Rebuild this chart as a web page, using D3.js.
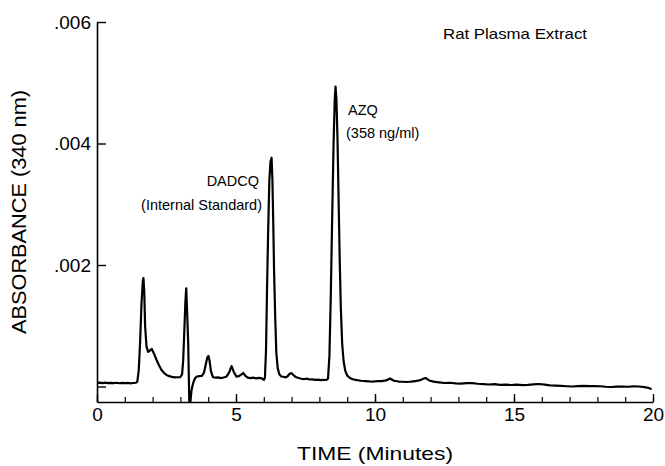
<!DOCTYPE html>
<html>
<head>
<meta charset="utf-8">
<script src="https://cdn.jsdelivr.net/npm/d3@7"></script>
<style>
  html, body { margin: 0; padding: 0; background: #fff; }
  svg { display: block; }
  text { font-family: "Liberation Sans", Arial, Helvetica, sans-serif; fill: #000; }
</style>
</head>
<body>
<svg id="chart" width="665" height="466"></svg>
<script>
// ---- data ----
const times = [
  0.00, 0.10, 0.20, 0.30, 0.40, 0.50, 0.60, 0.70, 0.80, 0.90,
  1.00, 1.10, 1.20, 1.30, 1.40, 1.45, 1.50, 1.55, 1.60, 1.65,
  1.67, 1.70, 1.73, 1.78, 1.84, 1.90, 1.97, 2.05, 2.14, 2.23,
  2.32, 2.41, 2.50, 2.60, 2.70, 2.80, 2.90, 3.00, 3.06, 3.10,
  3.14, 3.18, 3.21, 3.24, 3.28, 3.32, 3.36, 3.40, 3.46, 3.53,
  3.60, 3.68, 3.77, 3.85, 3.92, 3.97, 4.01, 4.05, 4.10, 4.17,
  4.25, 4.35, 4.45, 4.55, 4.65, 4.75, 4.84, 4.92, 5.02, 5.12,
  5.20, 5.26, 5.33, 5.42, 5.52, 5.62, 5.72, 5.82, 5.92, 6.00,
  6.04, 6.08, 6.12, 6.16, 6.20, 6.24, 6.28, 6.31, 6.34, 6.37,
  6.41, 6.45, 6.50, 6.56, 6.63, 6.70, 6.78, 6.85, 6.92, 6.99,
  7.06, 7.15, 7.25, 7.35, 7.45, 7.55, 7.65, 7.75, 7.85, 7.95,
  8.05, 8.15, 8.25, 8.31, 8.36, 8.41, 8.46, 8.51, 8.55, 8.58,
  8.61, 8.65, 8.69, 8.73, 8.77, 8.82, 8.87, 8.93, 9.00, 9.10,
  9.20, 9.35, 9.50, 9.65, 9.80, 9.95, 10.10, 10.25, 10.40, 10.54,
  10.68, 10.85, 11.00, 11.15, 11.30, 11.45, 11.60, 11.72, 11.82, 11.95,
  12.10, 12.30, 12.50, 12.70, 12.90, 13.10, 13.30, 13.50, 13.70, 13.90,
  14.10, 14.30, 14.50, 14.70, 14.90, 15.10, 15.30, 15.50, 15.70, 15.90,
  16.10, 16.30, 16.50, 16.70, 16.90, 17.10, 17.30, 17.50, 17.70, 17.90,
  18.10, 18.30, 18.50, 18.70, 18.90, 19.10, 19.30, 19.50, 19.70, 19.85,
  19.95
];
const absorbance = [
  0.000060, 0.000064, 0.000057, 0.000063, 0.000055, 0.000061, 0.000056, 0.000062, 0.000054, 0.000059,
  0.000055, 0.000061, 0.000053, 0.000058, 0.000062, 0.000080, 0.000260, 0.000720, 0.001360, 0.001740,
  0.001786, 0.001560, 0.001000, 0.000660, 0.000570, 0.000590, 0.000620, 0.000540, 0.000440, 0.000350,
  0.000272, 0.000225, 0.000190, 0.000170, 0.000158, 0.000150, 0.000152, 0.000156, 0.000200, 0.000430,
  0.000900, 0.001400, 0.001616, 0.001250, 0.000716, -0.000255, -0.000255, -0.000060, 0.000060, 0.000140,
  0.000165, 0.000170, 0.000175, 0.000230, 0.000380, 0.000480, 0.000502, 0.000420, 0.000250, 0.000156,
  0.000145, 0.000150, 0.000138, 0.000148, 0.000160, 0.000230, 0.000337, 0.000240, 0.000161, 0.000175,
  0.000200, 0.000222, 0.000180, 0.000145, 0.000138, 0.000146, 0.000135, 0.000142, 0.000136, 0.000110,
  0.000140, 0.000600, 0.001700, 0.002626, 0.003400, 0.003700, 0.003766, 0.003400, 0.002700, 0.001900,
  0.001150, 0.000560, 0.000300, 0.000200, 0.000165, 0.000160, 0.000150, 0.000165, 0.000205, 0.000222,
  0.000190, 0.000156, 0.000140, 0.000128, 0.000123, 0.000130, 0.000115, 0.000118, 0.000110, 0.000112,
  0.000105, 0.000108, 0.000107, 0.000130, 0.000500, 0.001500, 0.002800, 0.004000, 0.004700, 0.004935,
  0.004750, 0.004100, 0.003100, 0.002100, 0.001300, 0.000700, 0.000420, 0.000260, 0.000180, 0.000140,
  0.000120, 0.000105, 0.000095, 0.000090, 0.000084, 0.000082, 0.000088, 0.000090, 0.000100, 0.000132,
  0.000095, 0.000082, 0.000078, 0.000074, 0.000080, 0.000090, 0.000100, 0.000125, 0.000140, 0.000100,
  0.000080, 0.000068, 0.000058, 0.000062, 0.000052, 0.000049, 0.000055, 0.000057, 0.000045, 0.000040,
  0.000033, 0.000038, 0.000028, 0.000030, 0.000025, 0.000030, 0.000022, 0.000026, 0.000035, 0.000041,
  0.000030, 0.000018, 0.000014, 0.000010, 0.000004, 0.000000, 0.000006, 0.000012, 0.000006, 0.000008,
  0.000004, -0.000004, -0.000008, -0.000002, 0.000000, -0.000004, 0.000002, 0.000000, -0.000010, -0.000025,
  -0.000046
];
const yTickValues = [0, 0.002, 0.004, 0.006];
const yTickLabels = ["", ".002", ".004", ".006"];
const xMajorTicks = [0, 5, 10, 15, 20];
const xMinorTicks = d3.range(0, 21, 1);
const xTitle = "TIME (Minutes)";
const yTitle = "ABSORBANCE (340 nm)";
const sampleLabel = "Rat Plasma Extract";
const peakLabels = [
  { lines: ["DADCQ", "(Internal Standard)"] },
  { lines: ["AZQ", "(358 ng/ml)"] }
];

// ---- layout ----
const svg = d3.select("#chart");
const mLeft = 97, mRight = 653, mTop = 22, mBottom = 402;

const x = d3.scaleLinear().domain([0, 20]).range([mLeft, mRight]);
const y = d3.scaleLinear().domain([-0.000255, 0.006]).range([mBottom, mTop]);

// y axis (ticks pointing inward)
const yAxis = d3.axisLeft(y)
  .tickValues(yTickValues)
  .tickFormat((d, i) => yTickLabels[i])
  .tickSizeInner(-9)
  .tickSizeOuter(0)
  .tickPadding(6);
const gy = svg.append("g").attr("transform", `translate(${mLeft},0)`).call(yAxis);
gy.select(".domain").attr("stroke-width", 1.6);
gy.selectAll(".tick line").attr("stroke-width", 1.4);
gy.selectAll(".tick text").attr("font-size", 19).attr("font-family", "Liberation Sans, Arial, sans-serif");

// x axis minor ticks
const xMinor = d3.axisBottom(x).tickValues(xMinorTicks).tickFormat("").tickSizeInner(-5).tickSizeOuter(0);
const gxm = svg.append("g").attr("transform", `translate(0,${mBottom})`).call(xMinor);
gxm.select(".domain").attr("stroke-width", 1.6);
gxm.selectAll(".tick line").attr("stroke-width", 1.2);

// x axis major ticks + labels
const xMajor = d3.axisBottom(x).tickValues(xMajorTicks).tickFormat(d3.format("d")).tickSizeInner(-8).tickSizeOuter(0).tickPadding(6);
const gx = svg.append("g").attr("transform", `translate(0,${mBottom})`).call(xMajor);
gx.select(".domain").remove();
gx.selectAll(".tick line").attr("stroke-width", 1.4);
gx.selectAll(".tick text").attr("font-size", 19).attr("font-family", "Liberation Sans, Arial, sans-serif");

// signal trace
const pts = times.map((t, i) => [t, absorbance[i]]);
const line = d3.line().x(d => x(d[0])).y(d => y(d[1])).curve(d3.curveLinear);
svg.append("path")
  .datum(pts)
  .attr("fill", "none")
  .attr("stroke", "#000")
  .attr("stroke-width", 2.2)
  .attr("stroke-linejoin", "round")
  .attr("d", line);

// titles
svg.append("text")
  .attr("x", 375)
  .attr("y", 460)
  .attr("text-anchor", "middle")
  .attr("font-size", 19)
  .attr("textLength", 156)
  .attr("lengthAdjust", "spacingAndGlyphs")
  .text(xTitle);

svg.append("text")
  .attr("transform", "translate(26,212) rotate(-90)")
  .attr("text-anchor", "middle")
  .attr("font-size", 20)
  .attr("textLength", 244)
  .attr("lengthAdjust", "spacingAndGlyphs")
  .text(yTitle);

svg.append("text")
  .attr("x", 443)
  .attr("y", 39)
  .attr("font-size", 14.5)
  .attr("textLength", 144)
  .attr("lengthAdjust", "spacingAndGlyphs")
  .text(sampleLabel);

// peak annotations
const dad = svg.append("text").attr("font-size", 14.5).attr("text-anchor", "end");
dad.append("tspan").attr("x", 259).attr("y", 186).text(peakLabels[0].lines[0]);
dad.append("tspan").attr("x", 262).attr("y", 210).text(peakLabels[0].lines[1]);

const azq = svg.append("text").attr("font-size", 14.5).attr("text-anchor", "start");
azq.append("tspan").attr("x", 348).attr("y", 115).text(peakLabels[1].lines[0]);
azq.append("tspan").attr("x", 346).attr("y", 138).text(peakLabels[1].lines[1]);
</script>
</body>
</html>
